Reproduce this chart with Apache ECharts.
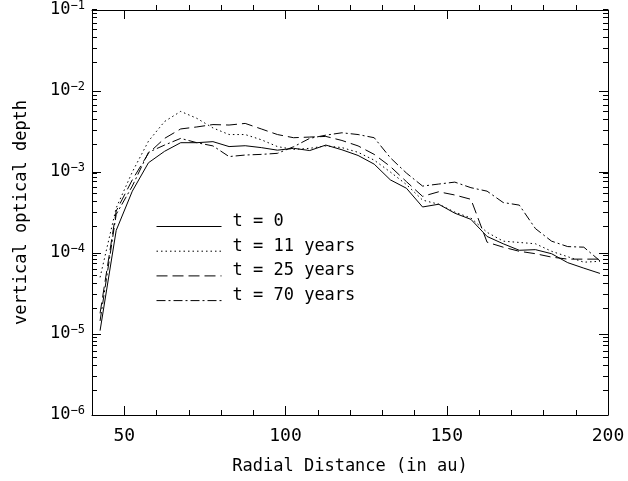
<!DOCTYPE html>
<html>
<head>
<meta charset="utf-8">
<script src="https://cdn.jsdelivr.net/npm/echarts@6/dist/echarts.min.js"></script>
<style>html,body{margin:0;padding:0;background:#fff;}#c{width:628px;height:481px;}</style>
</head>
<body>
<div id="c"></div>
<script>
// Radial distance sample points (au)
const radius = [42.5, 47.5, 52.5, 57.5, 62.5, 67.5, 72.5, 77.5, 82.5, 87.5, 92.5, 97.5,
  102.5, 107.5, 112.5, 117.5, 122.5, 127.5, 132.5, 137.5, 142.5, 147.5, 152.5, 157.5,
  162.5, 167.5, 172.5, 177.5, 182.5, 187.5, 192.5, 197.5];
// vertical optical depth for each time
const tau_t0 = [1.1e-5, 1.9e-4, 5.8e-4, 1.3e-3, 1.8e-3, 2.3e-3, 2.3e-3, 2.37e-3, 2.06e-3, 2.11e-3, 2.0e-3, 1.86e-3,
  1.96e-3, 1.84e-3, 2.15e-3, 1.88e-3, 1.6e-3, 1.25e-3, 8.0e-4, 6.3e-4, 3.7e-4, 4.0e-4, 3.1e-4, 2.6e-4,
  1.6e-4, 1.3e-4, 1.08e-4, 1.1e-4, 9.8e-5, 7.6e-5, 6.5e-5, 5.6e-5];
const tau_t11 = [5.0e-5, 3.6e-4, 1.0e-3, 2.4e-3, 4.2e-3, 5.6e-3, 4.6e-3, 3.5e-3, 2.9e-3, 2.9e-3, 2.5e-3, 2.06e-3,
  1.9e-3, 1.96e-3, 2.1e-3, 2.0e-3, 1.75e-3, 1.4e-3, 1.0e-3, 7.0e-4, 4.5e-4, 4.0e-4, 3.2e-4, 2.7e-4,
  1.8e-4, 1.4e-4, 1.35e-4, 1.3e-4, 1.05e-4, 9.0e-5, 7.7e-5, 7.9e-5];
const tau_t25 = [1.8e-5, 3.3e-4, 8.0e-4, 1.7e-3, 2.6e-3, 3.4e-3, 3.6e-3, 3.85e-3, 3.8e-3, 3.98e-3, 3.4e-3, 2.9e-3,
  2.65e-3, 2.7e-3, 2.75e-3, 2.45e-3, 2.1e-3, 1.65e-3, 1.17e-3, 7.6e-4, 5.0e-4, 5.7e-4, 5.2e-4, 4.6e-4,
  1.36e-4, 1.18e-4, 1.05e-4, 9.8e-5, 8.9e-5, 8.4e-5, 8.4e-5, 8.4e-5];
const tau_t70 = [1.45e-5, 3.0e-4, 6.7e-4, 1.75e-3, 2.15e-3, 2.6e-3, 2.3e-3, 2.1e-3, 1.55e-3, 1.62e-3, 1.65e-3, 1.7e-3,
  2.05e-3, 2.6e-3, 2.85e-3, 3.05e-3, 2.9e-3, 2.65e-3, 1.5e-3, 9.7e-4, 6.7e-4, 7.1e-4, 7.5e-4, 6.4e-4,
  5.8e-4, 4.2e-4, 3.9e-4, 2.0e-4, 1.4e-4, 1.2e-4, 1.18e-4, 8.0e-5];
const seriesNames = ['t = 0', 't = 11 years', 't = 25 years', 't = 70 years'];
const xMajorTicks = [50, 100, 150, 200];
const xMinorTicks = [60, 70, 80, 90, 110, 120, 130, 140, 160, 170, 180, 190];
const yDecades = [1e-6, 1e-5, 1e-4, 1e-3, 1e-2, 1e-1];

const FONT = '"DejaVu Sans Mono", monospace';
const yMinorTicks = [];
for (let d = 0; d < yDecades.length - 1; d++) {
  for (let k = 2; k <= 9; k++) yMinorTicks.push(+(k * yDecades[d]).toPrecision(3));
}

const chart = echarts.init(document.getElementById('c'), null, {renderer: 'canvas'});
const black = '#000';
const grid = {left: 92, right: 20, top: 5, bottom: 66, containLabel: false};

function xAx(pos, gridIndex, ticks, len, showLabel, name) {
  return {
    type: 'value', gridIndex: gridIndex, position: pos, min: 40, max: 200,
    axisLine: {show: gridIndex === 0, onZero: false, lineStyle: {color: black, width: 1}},
    axisTick: {show: true, inside: true, length: len, customValues: ticks, lineStyle: {color: black, width: 1}},
    axisLabel: {show: showLabel, customValues: ticks, color: black, fontFamily: FONT, fontSize: 18, margin: 12},
    splitLine: {show: false},
    name: name || '', nameLocation: 'middle', nameGap: 43,
    nameTextStyle: {color: black, fontFamily: FONT, fontSize: 17}
  };
}
function yAx(pos, gridIndex, ticks, len, showLabel, name) {
  const o = {
    type: 'log', logBase: 10, gridIndex: gridIndex, position: pos, min: 1e-6, max: 1e-1,
    axisLine: {show: gridIndex === 0, onZero: false, lineStyle: {color: black, width: 1}},
    axisTick: {show: true, inside: true, length: len, lineStyle: {color: black, width: 1}},
    axisLabel: {
      show: showLabel, color: black, fontFamily: FONT, fontSize: 17, margin: 7,
      formatter: function (v) {
        const e = Math.round(Math.log10(v));
        return '10{sup|' + (e < 0 ? '\u2212' : '') + Math.abs(e) + '}';
      },
      rich: {sup: {fontFamily: FONT, fontSize: 12, color: black, verticalAlign: 'top', padding: [0, 0, 8, 0]}}
    },
    splitLine: {show: false},
    name: name || '', nameLocation: 'middle', nameGap: 62,
    nameTextStyle: {color: black, fontFamily: FONT, fontSize: 17}
  };
  if (ticks) o.axisTick.customValues = ticks;
  return o;
}

const styles = [
  {type: 'solid'},
  {type: [1.5, 3]},
  {type: [11, 5]},
  {type: [9, 3, 2, 3]}
];
const values = [tau_t0, tau_t11, tau_t25, tau_t70];

chart.setOption({
  animation: false,
  backgroundColor: '#fff',
  grid: [grid, Object.assign({}, grid)],
  xAxis: [
    xAx('bottom', 0, xMajorTicks, 9, true, 'Radial Distance (in au)'),
    xAx('top', 0, xMajorTicks, 9, false),
    xAx('bottom', 1, xMinorTicks, 5, false),
    xAx('top', 1, xMinorTicks, 5, false)
  ],
  yAxis: [
    yAx('left', 0, yDecades, 9, true, 'vertical optical depth'),
    yAx('right', 0, yDecades, 9, false),
    yAx('left', 1, yMinorTicks, 5, false),
    yAx('right', 1, yMinorTicks, 5, false)
  ],
  legend: {
    orient: 'vertical', left: 156, top: 213, padding: 0,
    itemWidth: 65, itemHeight: 14, itemGap: -2.3,
    selectedMode: false,
    data: seriesNames,
    itemStyle: {opacity: 0, borderWidth: 0},
    lineStyle: {width: 1, opacity: 1},
    formatter: '{a|{name}}',
    textStyle: {
      color: black, fontFamily: FONT, fontSize: 17,
      rich: {a: {color: black, fontFamily: FONT, fontSize: 17, lineHeight: 17, padding: [0, 0, 10, 6]}}
    }
  },
  series: seriesNames.map(function (n, i) {
    return {
      name: n, type: 'line', xAxisIndex: 0, yAxisIndex: 0,
      symbol: 'none', showSymbol: false,
      lineStyle: Object.assign({color: black, width: 1}, styles[i]),
      itemStyle: {color: black},
      data: radius.map(function (r, j) { return [r, values[i][j]]; })
    };
  })
});
</script>
</body>
</html>
